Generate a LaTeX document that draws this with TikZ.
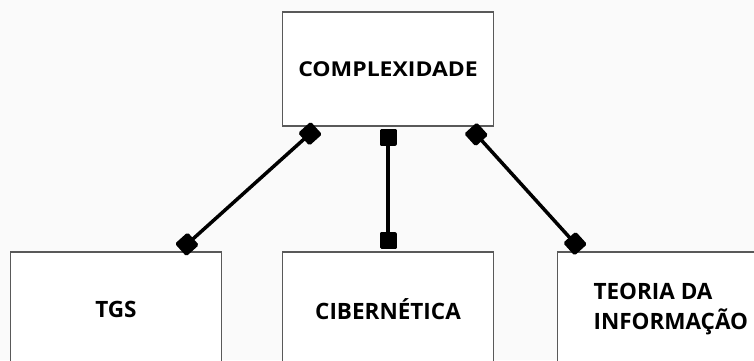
\documentclass[tikz,border=0pt]{standalone}
\usepackage{fontspec}
\setsansfont{Open Sans}
\usetikzlibrary{arrows.meta,positioning,calc}

\tikzset{
  box/.style={draw=black!65, line width=1.3pt, fill=white, minimum width=211pt,
    minimum height=114pt, inner sep=0pt, align=center, font=\sffamily\bfseries},
  toplabel/.style={font=\sffamily\bfseries\fontsize{20.5}{24}\selectfont\addfontfeatures{FakeStretch=1.12}},
  sublabel/.style={font=\sffamily\bfseries\fontsize{22.5}{30}\selectfont},
  link/.style={line width=3.5pt, line cap=round,
    {Square[length=17pt,width=17pt,round]}-{Square[length=17pt,width=17pt,round]},
    shorten <=2pt, shorten >=2pt},
}

\begin{document}
\begin{tikzpicture}[x=1pt, y=1pt, node distance=240pt and 272pt, on grid]
  \clip (0,-360) rectangle (754,0);
  \fill [black!2] (0,-360) rectangle (754,0);
  \node [box,toplabel] (cplx) at (388,-69) {COMPLEXIDADE};
  \node [box,sublabel] (cib) [below=of cplx] {CIBERNÉTICA};
  \node [box,sublabel] (tgs) [left=of cib] {TGS};
  \node [box,sublabel,align=left,minimum width=226pt,anchor=west] (info)
    at ($(cib.east)+(63,0)$) {TEORIA DA\\INFORMAÇÃO};
  % ligacoes
  \draw [link] ($(cplx.south west)+(36,0)$) -- ($(tgs.north east)+(-43,0)$);
  \draw [link] (cplx.south) -- (cib.north);
  \draw [link] ($(cplx.south east)+(-25,0)$) -- ($(info.north west)+(25,0)$);
\end{tikzpicture}
\end{document}
